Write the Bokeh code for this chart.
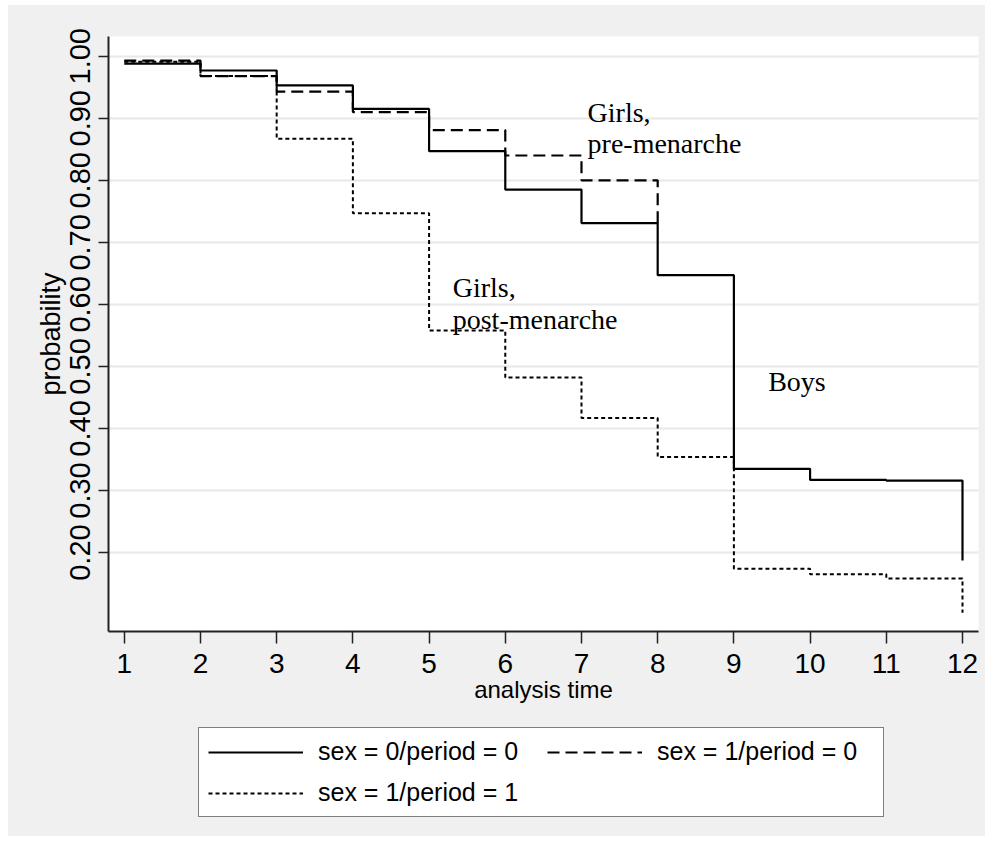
from bokeh.plotting import figure
from bokeh.layouts import column
from bokeh.models import Legend, LegendItem, FixedTicker, Range1d, ColumnDataSource
from bokeh.core.properties import value
from bokeh.embed import file_html
from bokeh.resources import INLINE

# ---- data ----
time_boys = [1, 2, 3, 4, 5, 6, 7, 8, 9, 10, 11, 12]
surv_boys = [0.988, 0.977, 0.953, 0.915, 0.847, 0.785, 0.731, 0.647, 0.335, 0.317, 0.316, 0.187]

time_pre = [1, 2, 3, 4, 5, 6, 7, 8]
surv_pre = [0.993, 0.968, 0.943, 0.910, 0.881, 0.840, 0.800, 0.731]

time_post = [1, 2, 3, 4, 5, 6, 7, 8, 9, 10, 11, 12]
surv_post = [0.991, 0.968, 0.867, 0.747, 0.558, 0.482, 0.417, 0.354, 0.174, 0.165, 0.158, 0.103]

x_ticks = [1, 2, 3, 4, 5, 6, 7, 8, 9, 10, 11, 12]
y_ticks = [0.2, 0.3, 0.4, 0.5, 0.6, 0.7, 0.8, 0.9, 1.0]
y_tick_labels = ["0.20", "0.30", "0.40", "0.50", "0.60", "0.70", "0.80", "0.90", "1.00"]

legend_labels = ["sex = 0/period = 0", "sex = 1/period = 0", "sex = 1/period = 1"]

note_text = ["Girls,", "pre-menarche", "Girls,", "post-menarche", "Boys"]
note_x = [7.08, 7.08, 5.31, 5.31, 9.45]
note_y = [0.909, 0.859, 0.627, 0.576, 0.475]

x_title = "analysis time"
y_title = "probability"

BG = "#F0F0F0"
INK = "#222222"

# ---- main figure ----
p = figure(width=977, height=716,
           x_range=Range1d(0.793, 12.21), y_range=Range1d(0.0727, 1.0318),
           output_backend="svg", toolbar_location=None,
           min_border_left=100, min_border_top=31, min_border_right=7, min_border_bottom=90)

p.border_fill_color = BG
p.background_fill_color = "white"
p.outline_line_color = None

p.xgrid.grid_line_color = None
p.ygrid.grid_line_color = "#E8E8E8"
p.ygrid.grid_line_width = 2

p.xaxis.ticker = FixedTicker(ticks=x_ticks)
p.yaxis.ticker = FixedTicker(ticks=y_ticks)
p.yaxis.major_label_overrides = {t: l for t, l in zip(y_ticks, y_tick_labels)}
p.yaxis.major_label_orientation = "vertical"

for ax in (p.xaxis[0], p.yaxis[0]):
    ax.axis_line_color = INK
    ax.axis_line_width = 2
    ax.major_tick_line_color = INK
    ax.major_tick_line_width = 1.5
    ax.major_tick_in = 0
    ax.minor_tick_line_color = None
    ax.major_label_text_font = "Liberation Sans"
    ax.major_label_text_color = "black"
    ax.axis_label_text_font = "Liberation Sans"
    ax.axis_label_text_font_style = "normal"
    ax.axis_label_text_color = "black"

p.xaxis.major_tick_out = 12
p.xaxis.major_label_standoff = 10
p.xaxis.major_label_text_font_size = "28px"
p.xaxis.axis_label = x_title
p.xaxis.axis_label_standoff = 0
p.xaxis.axis_label_text_font_size = "24px"

p.yaxis.major_tick_out = 10
p.yaxis.major_label_standoff = 8
p.yaxis.major_label_text_font_size = "29px"
p.yaxis.axis_label = y_title
p.yaxis.axis_label_standoff = 2
p.yaxis.axis_label_text_font_size = "27px"

STYLES = [dict(line_color="black", line_width=2.2),
          dict(line_color="black", line_width=2.2, line_dash="12 6"),
          dict(line_color="black", line_width=2, line_dash="4 3")]

p.step(time_boys, surv_boys, mode="after", **STYLES[0])
p.step(time_pre, surv_pre, mode="after", **STYLES[1])
p.step(time_post, surv_post, mode="after", **STYLES[2])

notes = ColumnDataSource(dict(x=note_x, y=note_y, text=note_text))
p.text(x="x", y="y", text="text", source=notes, text_font=value("Liberation Serif"),
       text_font_size="28px", text_color="black", text_baseline="alphabetic",
       text_align="left")

# ---- legend strip below (same background) ----
q = figure(width=977, height=115, x_range=Range1d(0, 1), y_range=Range1d(0, 1),
           output_backend="svg", toolbar_location=None,
           x_axis_location=None, y_axis_location=None, min_border=0)
q.border_fill_color = BG
q.background_fill_color = None
q.outline_line_color = None
q.grid.grid_line_color = None

# placeholder renderers (a single NaN point, nothing drawn) that carry the legend line styles
nan = float("nan")
leg_renderers = [q.line([nan], [nan], **s) for s in STYLES]

# tuple location = bottom-left corner of the legend box, in px from the frame's bottom-left
legend = Legend(items=[LegendItem(label=lab, renderers=[r])
                       for lab, r in zip(legend_labels, leg_renderers)],
                orientation="horizontal", ncols=2, location=(90, 19))
legend.border_line_color = "black"
legend.border_line_width = 1
legend.background_fill_color = "white"
legend.background_fill_alpha = 1
legend.label_text_font = "Liberation Sans"
legend.label_text_font_size = "25px"
legend.label_text_color = "black"
legend.glyph_width = 95
legend.glyph_height = 24
legend.label_standoff = 15
legend.label_width = 217
legend.spacing = 12
legend.padding = 9
legend.margin = 0
q.add_layout(legend, "center")

layout = column(p, q, spacing=0, margin=(5, 0, 0, 8), styles={"background-color": BG})

open("out.html", "w").write(file_html(layout, INLINE))
